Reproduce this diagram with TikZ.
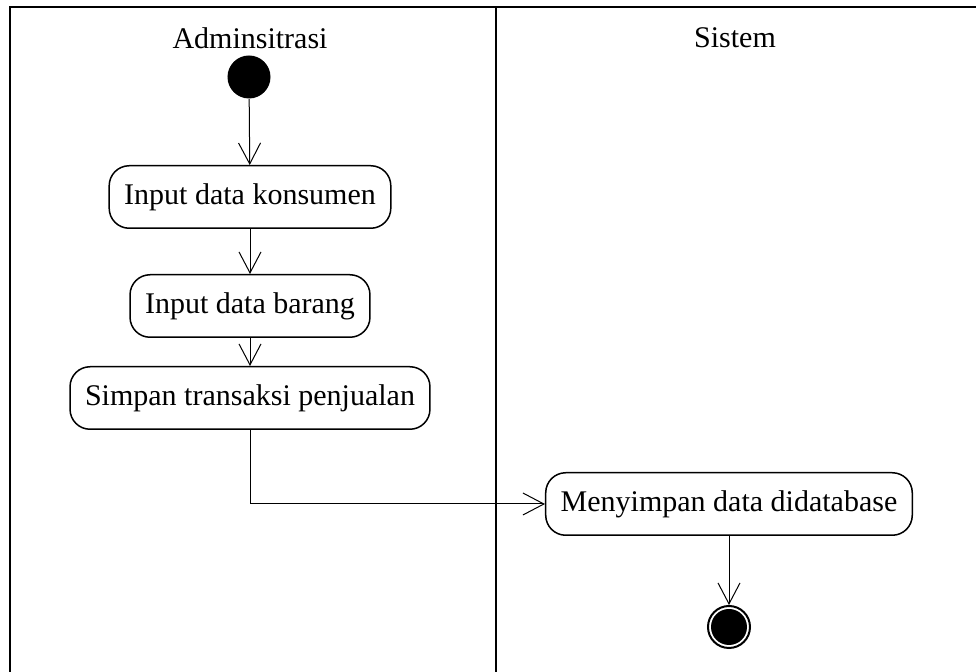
\documentclass[tikz,border=0pt]{standalone}
\usepackage{fontspec}
\setmainfont{Liberation Serif}
\usetikzlibrary{arrows.meta,positioning}
\tikzset{
  activity/.style={draw, line width=0.6pt, rounded corners=8pt, minimum height=25pt, inner xsep=6pt, font=\fontsize{12}{14}\selectfont},
  lane/.style={font=\fontsize{12}{14}\selectfont},
  flow/.style={-{Straight Barb[length=8.4pt,width=8.8pt]}, line width=0.4pt},
}
\begin{document}
\begin{tikzpicture}[x=0.4pt,y=-0.4pt]
    \useasboundingbox (0,0) rectangle (976,672);
    % swimlanes
    \draw[line width=0.8pt] (10,672) -- (10,7) -- (976,7);
    \draw[line width=0.8pt] (496,7) -- (496,672);
    \node[lane] (admin) at (250,38) {Adminsitrasi};
    \node[lane] (sistem) at (735,38) {Sistem};
    % activities
    \node[circle, fill, minimum size=17.2pt, inner sep=0pt] (start) at (249,77) {};
    \node[activity] (konsumen) at (250,197) {Input data konsumen};
    \node[activity] (barang) at (250,306) {Input data barang};
    \node[activity] (simpan) at (250,398) {Simpan transaksi penjualan};
    \node[activity] (menyimpan) at (729,504) {Menyimpan data didatabase};
    \node[circle, draw, line width=0.8pt, minimum size=16.8pt, inner sep=0pt] (end) at (729,627) {};
    \fill (end.center) circle (7.2pt);
    % flows
    \draw[flow] (start) -- (konsumen);
    \draw[flow] (konsumen) -- (barang);
    \draw[flow] (barang) -- (simpan);
    \draw[flow] (simpan.south) |- (menyimpan.west);
    \draw[flow] (menyimpan) -- (end);
\end{tikzpicture}
\end{document}
